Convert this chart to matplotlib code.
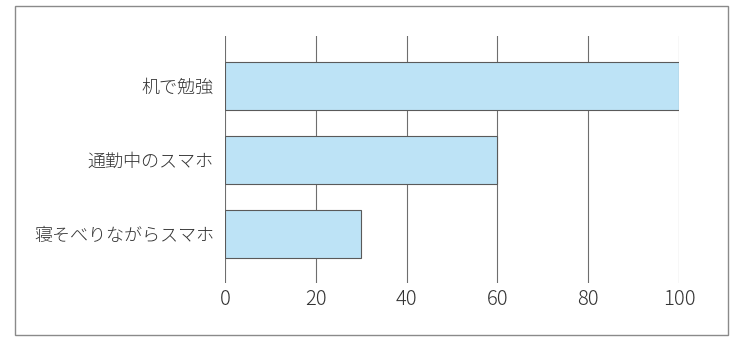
import matplotlib
matplotlib.use("Agg")
import matplotlib.pyplot as plt
from matplotlib.patches import Rectangle

plt.rcParams['font.family'] = ['Noto Sans CJK JP', 'DejaVu Sans']

categories = ["机で勉強", "通勤中のスマホ", "寝そべりながらスマホ"]
values = [100, 60, 30]
xticks = [0, 20, 40, 60, 80, 100]

fig = plt.figure(figsize=(7.5, 3.44), dpi=100)
W, H = 750, 344

# outer frame
fig.patches.append(Rectangle((15 / W, 1 - 335 / H), 713 / W, 329 / H,
                             transform=fig.transFigure, fill=False,
                             edgecolor='#8a8a8a', linewidth=1.0))

ax = fig.add_axes([225 / W, 1 - 283 / H, 454 / W, 247 / H])

ypos = list(range(len(categories) - 1, -1, -1))
ax.barh(ypos, values, height=0.645, color='#bde3f6', edgecolor='#5a5a5a',
        linewidth=0.8, zorder=2)

ax.set_xlim(0, 100)
ax.set_ylim(-0.66, 2.67)
ax.set_xticks(xticks)
ax.set_xticklabels([str(t) for t in xticks])
ax.set_yticks(ypos)
ax.set_yticklabels(categories)

ax.set_axisbelow(True)
ax.grid(axis='x', color='#6e6e6e', linewidth=0.8)
for s in ax.spines.values():
    s.set_visible(False)

ax.tick_params(axis='x', length=0, pad=4, labelsize=14.5, labelcolor='#333333')
ax.tick_params(axis='y', length=0, pad=8, labelsize=13, labelcolor='#333333')
for lbl in ax.get_xticklabels() + ax.get_yticklabels():
    lbl.set_fontweight('light')

fig.savefig("out.png", dpi=100)
